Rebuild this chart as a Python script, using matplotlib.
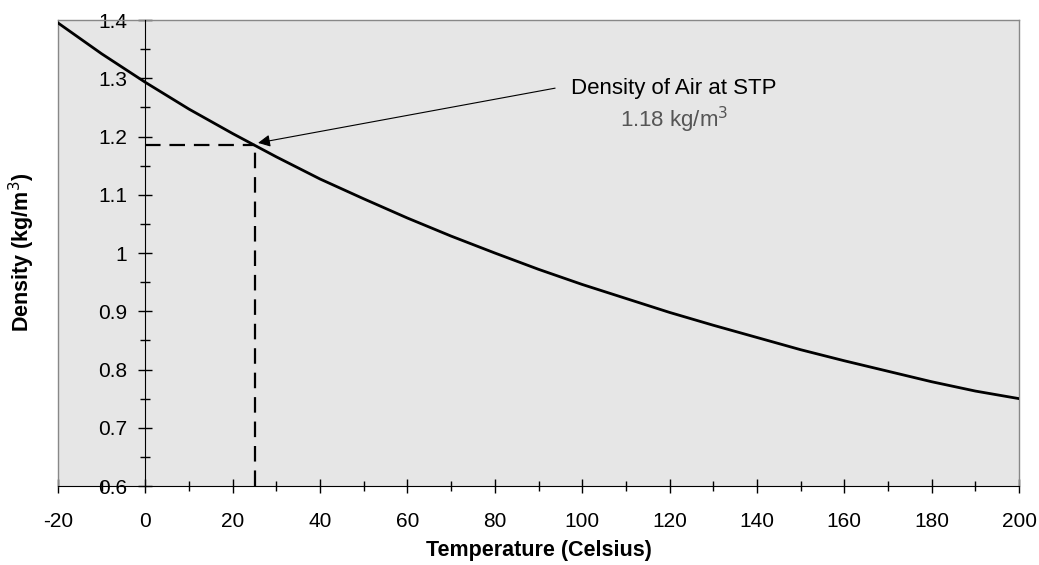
import matplotlib.pyplot as plt
from matplotlib.ticker import MultipleLocator

plt.rcParams['font.family'] = ['Liberation Sans', 'DejaVu Sans']
plt.rcParams['axes.unicode_minus'] = False

# air density, every 10 degrees
temps = [-20, -10, 0, 10, 20, 30, 40, 50, 60, 70, 80, 90, 100,
         110, 120, 130, 140, 150, 160, 170, 180, 190, 200]
density = [1.395, 1.342, 1.293, 1.247, 1.205, 1.165, 1.127, 1.093, 1.060,
           1.029, 1.000, 0.972, 0.946, 0.922, 0.898, 0.876, 0.855, 0.834,
           0.815, 0.797, 0.779, 0.763, 0.750]
ytick_vals = [0.6, 0.7, 0.8, 0.9, 1.0, 1.1, 1.2, 1.3, 1.4]
ytick_labels = ['0.6', '0.7', '0.8', '0.9', '1', '1.1', '1.2', '1.3', '1.4']

stp_temp = 25
stp_density = 1.185
note_title = 'Density of Air at STP'
note_value = '1.18 kg/m$^3$'

fig = plt.figure(figsize=(10.39, 5.65), dpi=100)
ax = fig.add_axes([0.0558, 0.1398, 0.925, 0.8248])
ax.set_facecolor('#e6e6e6')

ax.plot(temps, density, color='black', lw=2.0, zorder=3)

# dashed guide lines to the STP point
ax.plot([0, stp_temp], [stp_density, stp_density], color='black', lw=1.6,
        dashes=(7, 4), zorder=2)
ax.plot([stp_temp, stp_temp], [0.6, stp_density], color='black', lw=1.6,
        dashes=(7, 4), zorder=2)

ax.annotate('', xy=(stp_temp + 0.8, stp_density + 0.004), xytext=(93.8, 1.283),
            arrowprops=dict(arrowstyle='-|>', color='black', lw=0.8,
                            mutation_scale=18, shrinkA=0, shrinkB=0))
ax.text(121, 1.283, note_title, fontsize=16, ha='center', va='center')
ax.text(121, 1.228, note_value, fontsize=16, ha='center', va='center',
        color='#555555')

ax.set_xlim(-20, 200)
ax.set_ylim(0.6, 1.4)

ax.spines['left'].set_position(('data', 0))
ax.spines['left'].set_zorder(4)
for s in ['top', 'right']:
    ax.spines[s].set_color('#888888')
    ax.spines[s].set_linewidth(1.0)
ax.axvline(-20, color='#888888', lw=1.0, clip_on=False)

ax.xaxis.set_major_locator(MultipleLocator(20))
ax.xaxis.set_minor_locator(MultipleLocator(10))
ax.set_yticks(ytick_vals)
ax.set_yticklabels(ytick_labels)
ax.yaxis.set_minor_locator(MultipleLocator(0.05))
ax.tick_params(which='major', direction='inout', length=10, width=1, labelsize=15)
ax.tick_params(which='minor', direction='inout', length=7, width=1)
ax.tick_params(axis='x', which='major', pad=14)
ax.tick_params(axis='y', which='major', pad=8)

ax.set_xlabel('Temperature (Celsius)', fontsize=15.5, fontweight='bold', labelpad=6)
fig.text(0.021, 0.554, 'Density (kg/m$^3$)', fontsize=15.5, fontweight='bold',
         rotation=90, ha='center', va='center')

fig.savefig('out.png', dpi=100)
